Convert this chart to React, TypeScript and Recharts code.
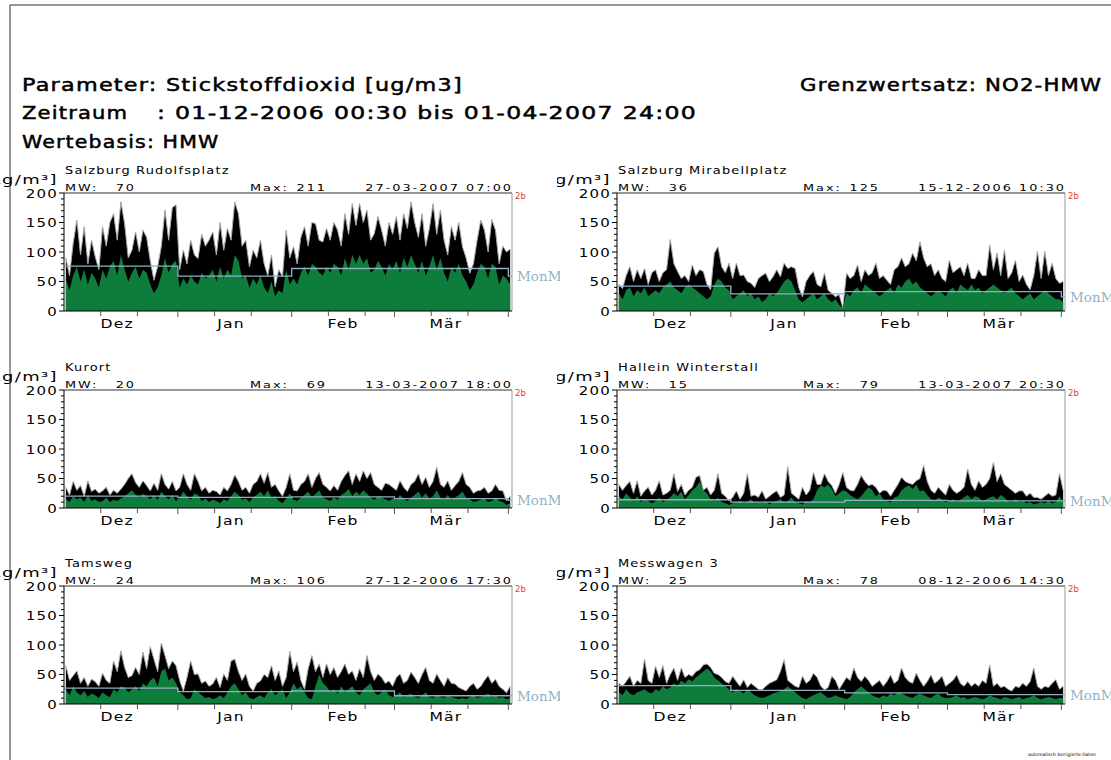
import React from "react";
import { ComposedChart, Area, Line, XAxis, YAxis, ReferenceLine } from "recharts";

// tick labels and axis positions (day index from 01-12-2006)
const monthLabels = ["Dez", "Jan", "Feb", "Mär"];
const monthLabelDays = [14.5, 45.5, 76, 104];
const monthStartDays = [0, 31, 62, 90, 121];
const dekadDays = [10, 20, 31, 41, 51, 62, 72, 82, 90, 100, 110, 121];
const yTicks = [0, 10, 20, 30, 40, 50, 60, 70, 80, 90, 100, 110, 120, 130, 140, 150, 160, 170, 180, 190, 200];

const stations = ["Salzburg Rudolfsplatz", "Salzburg Mirabellplatz", "Kurort", "Hallein Winterstall", "Tamsweg", "Messwagen 3"];
const mwValues = [70, 36, 20, 15, 24, 25];
const maxValues = [211, 125, 69, 79, 106, 78];
const maxTimes = ["27-03-2007 07:00", "15-12-2006 10:30", "13-03-2007 18:00", "13-03-2007 20:30", "27-12-2006 17:30", "08-12-2006 14:30"];

// daily peak of the half-hour values (black) and lower band (green)
const rudolfsplatzHi = [90, 60, 115, 154, 95, 143, 80, 120, 92, 70, 143, 110, 150, 165, 120, 185, 148, 90, 103, 134, 100, 137, 125, 85, 52, 75, 109, 171, 120, 175, 180, 70, 103, 80, 120, 95, 89, 130, 110, 120, 134, 95, 150, 103, 140, 120, 185, 165, 110, 120, 75, 103, 90, 120, 80, 60, 95, 41, 70, 58, 137, 90, 109, 80, 125, 143, 110, 150, 148, 120, 117, 140, 120, 150, 137, 110, 165, 130, 182, 145, 182, 150, 171, 120, 131, 160, 137, 110, 150, 130, 160, 120, 165, 140, 185, 150, 125, 165, 110, 140, 182, 130, 171, 120, 95, 143, 120, 150, 109, 90, 64, 80, 120, 154, 137, 100, 155, 137, 80, 110, 100, 105];
const rudolfsplatzLo = [55, 35, 60, 75, 50, 70, 45, 65, 55, 40, 70, 55, 75, 85, 60, 95, 70, 50, 65, 75, 55, 70, 65, 45, 30, 40, 60, 90, 65, 80, 85, 40, 55, 45, 60, 50, 45, 65, 55, 60, 70, 50, 75, 55, 70, 60, 95, 85, 55, 60, 40, 55, 45, 60, 40, 30, 50, 25, 35, 30, 70, 45, 55, 45, 65, 75, 60, 80, 75, 65, 60, 75, 65, 80, 75, 60, 90, 70, 95, 80, 95, 80, 90, 65, 70, 85, 75, 60, 80, 70, 85, 65, 90, 75, 95, 80, 65, 85, 60, 75, 95, 70, 90, 65, 50, 75, 65, 80, 60, 50, 35, 45, 65, 80, 75, 55, 80, 75, 45, 60, 55, 45];
const rudolfsplatzMonthly = [76, 59, 72, 72, 59];

const mirabellHi = [45, 38, 60, 75, 50, 70, 55, 72, 45, 65, 70, 50, 65, 70, 121, 80, 67, 55, 60, 50, 78, 60, 70, 67, 45, 36, 98, 109, 75, 65, 81, 55, 81, 60, 61, 50, 47, 40, 55, 60, 64, 50, 58, 70, 58, 81, 72, 75, 72, 40, 24, 50, 60, 67, 45, 41, 64, 35, 30, 24, 28, 5, 64, 55, 60, 78, 50, 70, 60, 65, 81, 55, 60, 52, 45, 70, 75, 90, 75, 80, 98, 85, 117, 90, 75, 80, 60, 70, 55, 50, 86, 65, 70, 75, 60, 81, 55, 55, 70, 60, 60, 112, 70, 98, 60, 103, 55, 65, 86, 50, 61, 45, 36, 60, 101, 55, 101, 60, 81, 55, 47, 50];
const mirabellLo = [30, 20, 35, 40, 25, 35, 30, 40, 25, 30, 35, 30, 40, 45, 50, 40, 35, 30, 40, 45, 40, 35, 30, 25, 20, 25, 45, 55, 50, 40, 35, 20, 25, 30, 35, 25, 30, 20, 25, 15, 20, 30, 25, 30, 40, 50, 55, 50, 35, 20, 15, 20, 25, 30, 20, 25, 30, 20, 15, 20, 10, 5, 30, 25, 35, 40, 30, 45, 40, 35, 30, 25, 30, 35, 40, 30, 45, 40, 50, 55, 45, 50, 40, 35, 30, 25, 30, 35, 30, 25, 35, 40, 30, 45, 40, 35, 45, 35, 40, 30, 35, 40, 45, 40, 35, 30, 35, 40, 30, 25, 20, 25, 30, 20, 25, 30, 35, 30, 25, 20, 20, 15];
const mirabellMonthly = [42, 29, 33, 33, 24];

const kurortHi = [35, 22, 45, 30, 38, 20, 46, 28, 32, 25, 29, 35, 22, 30, 25, 32, 40, 50, 58, 43, 35, 46, 38, 29, 42, 30, 58, 40, 32, 45, 29, 35, 58, 40, 30, 58, 45, 29, 35, 25, 30, 28, 22, 35, 29, 40, 56, 45, 30, 35, 25, 40, 45, 58, 42, 60, 35, 40, 29, 20, 35, 58, 30, 29, 40, 45, 58, 35, 50, 60, 40, 35, 29, 38, 30, 45, 55, 63, 40, 58, 45, 63, 50, 60, 40, 35, 30, 42, 40, 35, 30, 46, 35, 28, 40, 45, 58, 40, 52, 35, 45, 69, 40, 35, 46, 30, 38, 45, 60, 40, 35, 25, 29, 30, 35, 25, 29, 40, 30, 29, 12, 20];
const kurortLo = [15, 10, 20, 15, 18, 10, 22, 12, 15, 10, 12, 18, 10, 14, 12, 16, 20, 25, 30, 22, 18, 24, 20, 15, 22, 14, 28, 20, 15, 22, 12, 18, 28, 20, 14, 25, 22, 12, 16, 10, 14, 12, 8, 15, 12, 20, 28, 22, 14, 16, 10, 18, 22, 28, 20, 30, 18, 20, 12, 8, 16, 25, 14, 12, 18, 22, 28, 18, 24, 30, 18, 15, 12, 18, 14, 22, 26, 32, 20, 28, 22, 30, 24, 18, 14, 20, 18, 15, 12, 16, 14, 22, 16, 12, 18, 22, 28, 18, 25, 16, 20, 30, 18, 15, 22, 14, 18, 22, 28, 18, 15, 10, 12, 14, 16, 10, 12, 18, 12, 10, 5, 8];
const kurortMonthly = [20, 18, 19, 16, 13];

const halleinHi = [40, 30, 38, 45, 25, 46, 20, 29, 35, 22, 30, 46, 22, 25, 30, 58, 28, 40, 22, 30, 35, 52, 55, 30, 35, 22, 30, 58, 25, 20, 12, 18, 29, 15, 25, 58, 20, 22, 18, 29, 15, 20, 25, 29, 18, 22, 70, 25, 20, 15, 35, 22, 30, 60, 40, 40, 58, 45, 38, 25, 40, 60, 35, 30, 29, 40, 55, 45, 38, 40, 35, 25, 30, 29, 20, 30, 40, 52, 45, 42, 40, 46, 50, 72, 45, 30, 25, 35, 28, 22, 40, 30, 25, 29, 35, 66, 40, 30, 46, 35, 40, 50, 77, 45, 58, 40, 35, 30, 25, 29, 29, 20, 25, 18, 18, 15, 20, 25, 20, 22, 58, 30];
const halleinLo = [20, 15, 25, 18, 12, 20, 10, 15, 12, 8, 12, 18, 10, 14, 18, 25, 20, 28, 15, 22, 30, 35, 45, 30, 25, 15, 12, 18, 10, 8, 5, 8, 10, 12, 8, 10, 15, 8, 10, 8, 12, 6, 10, 12, 15, 10, 12, 18, 10, 8, 6, 12, 10, 15, 30, 38, 35, 40, 32, 20, 25, 30, 28, 22, 18, 15, 20, 28, 35, 30, 20, 25, 15, 12, 10, 18, 20, 30, 35, 38, 32, 40, 28, 30, 22, 15, 12, 18, 15, 10, 12, 15, 10, 14, 18, 22, 15, 20, 18, 12, 15, 18, 20, 15, 22, 18, 12, 10, 15, 10, 12, 8, 10, 6, 8, 10, 8, 12, 8, 10, 20, 10];
const halleinMonthly = [14, 10, 13, 12, 12];

const tamswegHi = [65, 40, 48, 56, 35, 45, 30, 42, 38, 30, 52, 40, 35, 73, 55, 90, 62, 45, 48, 62, 50, 88, 60, 97, 76, 55, 103, 82, 60, 73, 65, 40, 22, 45, 73, 50, 51, 35, 39, 30, 34, 45, 28, 51, 40, 73, 76, 55, 40, 51, 30, 22, 35, 39, 50, 45, 65, 40, 56, 30, 45, 89, 55, 71, 40, 25, 60, 82, 55, 68, 45, 68, 50, 62, 45, 55, 68, 50, 56, 40, 60, 45, 82, 55, 40, 51, 45, 35, 39, 30, 45, 51, 35, 40, 54, 45, 35, 50, 62, 40, 35, 51, 40, 30, 45, 35, 34, 28, 25, 22, 30, 35, 25, 30, 40, 48, 35, 42, 30, 25, 19, 30];
const tamswegLo = [25, 15, 30, 20, 15, 22, 12, 18, 15, 10, 20, 15, 12, 25, 20, 30, 28, 20, 25, 30, 22, 35, 30, 40, 45, 30, 55, 60, 40, 45, 35, 20, 15, 8, 10, 25, 20, 15, 10, 12, 8, 10, 15, 10, 20, 30, 35, 25, 15, 20, 10, 8, 12, 15, 10, 20, 25, 15, 20, 25, 10, 20, 35, 25, 30, 20, 10, 8, 30, 50, 35, 30, 20, 25, 18, 30, 20, 25, 30, 20, 15, 25, 30, 35, 20, 15, 20, 25, 15, 12, 15, 20, 12, 15, 18, 12, 10, 15, 20, 12, 10, 15, 12, 10, 15, 12, 10, 8, 10, 8, 12, 15, 10, 12, 15, 18, 12, 15, 10, 12, 8, 10];
const tamswegMonthly = [27, 21, 22, 14, 14];

const messwagenHi = [35, 30, 38, 47, 30, 40, 35, 76, 40, 35, 64, 45, 65, 35, 50, 61, 40, 61, 45, 50, 47, 55, 58, 66, 68, 62, 52, 50, 45, 38, 35, 47, 38, 30, 41, 28, 35, 30, 25, 24, 30, 35, 38, 41, 55, 75, 40, 35, 30, 28, 47, 35, 40, 52, 45, 30, 24, 28, 47, 40, 25, 35, 45, 40, 61, 45, 38, 47, 40, 30, 35, 40, 30, 38, 49, 35, 40, 61, 45, 38, 35, 52, 40, 30, 38, 49, 35, 40, 47, 30, 35, 40, 49, 35, 30, 38, 30, 35, 30, 40, 35, 66, 30, 35, 28, 30, 25, 22, 30, 28, 35, 30, 38, 61, 30, 25, 30, 28, 35, 41, 25, 30];
const messwagenLo = [20, 15, 25, 18, 15, 20, 22, 25, 20, 18, 25, 22, 30, 25, 28, 35, 30, 40, 35, 42, 38, 45, 50, 55, 60, 55, 45, 40, 35, 30, 25, 20, 25, 22, 18, 25, 20, 15, 12, 10, 12, 15, 18, 20, 22, 25, 30, 25, 20, 15, 10, 8, 12, 15, 18, 20, 15, 10, 12, 15, 12, 10, 8, 12, 20, 25, 30, 25, 20, 15, 12, 10, 15, 12, 18, 15, 20, 18, 15, 12, 10, 15, 18, 15, 12, 10, 15, 18, 12, 10, 10, 12, 15, 10, 12, 8, 10, 12, 10, 8, 10, 15, 12, 10, 8, 12, 10, 8, 10, 12, 8, 10, 12, 15, 10, 8, 10, 12, 10, 8, 10, 10];
const messwagenMonthly = [31, 23, 19, 16, 16];

const hiSeries = [rudolfsplatzHi, mirabellHi, kurortHi, halleinHi, tamswegHi, messwagenHi];
const loSeries = [rudolfsplatzLo, mirabellLo, kurortLo, halleinLo, tamswegLo, messwagenLo];
const monthlySeries = [rudolfsplatzMonthly, mirabellMonthly, kurortMonthly, halleinMonthly, tamswegMonthly, messwagenMonthly];

// plot boxes (left, top) of the six panels
const boxes = [
  { x: 64, y: 193 },
  { x: 617, y: 193 },
  { x: 64, y: 390 },
  { x: 617, y: 390 },
  { x: 64, y: 586 },
  { x: 617, y: 586 },
];
const PW = 448;
const PH = 118;

const SANS = "'DejaVu Sans', Verdana, sans-serif";
const SERIF = "'DejaVu Serif', 'Liberation Serif', serif";
const GREEN = "#0e7d3c";
const MEAN = "#8fb1c2";

function WText({ x, y, size, sx = 1, ls = 0, anchor = "start", fill = "#000", family = SANS, bold = 0, children }: any) {
  return (
    <text
      transform={`translate(${x},${y}) scale(${sx},1)`}
      fontSize={size}
      fontFamily={family}
      letterSpacing={ls}
      textAnchor={anchor}
      fill={fill}
      stroke={bold ? fill : "none"}
      strokeWidth={bold}
      style={{ whiteSpace: "pre" }}
    >
      {children}
    </text>
  );
}

function YTick(props: any) {
  const { x, y, payload } = props;
  const v = payload.value;
  const major = v % 50 === 0;
  return (
    <g>
      <line x1={x - (major ? 5 : 3)} x2={x} y1={y} y2={y} stroke="#000" />
      {major && (
        <WText x={x - 6} y={y + 4.5} size={12.5} sx={1.2} ls={1} anchor="end">
          {v}
        </WText>
      )}
    </g>
  );
}

function XTick(props: any) {
  const { x, y, payload } = props;
  const v = payload.value;
  const k = monthLabelDays.indexOf(v);
  if (k >= 0) {
    return (
      <WText x={x} y={y + 17} size={13} sx={1.2} ls={1} anchor="middle">
        {monthLabels[k]}
      </WText>
    );
  }
  const long = monthStartDays.indexOf(v) >= 0;
  return <line x1={x} x2={x} y1={y} y2={y + (long ? 6 : 5)} stroke="#555" />;
}

function Panel({ i }: { i: number }) {
  const hi = hiSeries[i];
  const lo = loSeries[i];
  const rows = hi.map((h, d) => ({ d: d + 0.5, hi: h, lo: lo[d] }));
  const monthly = monthlySeries[i];
  const meanRows = monthStartDays.map((d, k) => ({ d, m: monthly[k] })).concat([{ d: 122, m: monthly[4] }]);
  const b = boxes[i];
  return (
    <div style={{ position: "absolute", left: b.x - 64, top: b.y - 10 }}>
      <ComposedChart width={64 + PW + 10} height={10 + PH + 30} data={rows} margin={{ top: 10, right: 10, bottom: 0, left: 0 }}>
        <XAxis
          dataKey="d"
          type="number"
          domain={[0, 122]}
          ticks={dekadDays.concat(monthLabelDays)}
          interval={0}
          tickSize={0}
          tickMargin={0}
          tickLine={false}
          tick={(p: any) => <XTick {...p} />}
          axisLine={{ stroke: "#000" }}
          height={30}
          allowDataOverflow
        />
        <YAxis
          type="number"
          domain={[0, 200]}
          ticks={yTicks}
          interval={0}
          tickSize={0}
          tickMargin={0}
          tickLine={false}
          tick={(p: any) => <YTick {...p} />}
          axisLine={{ stroke: "#000" }}
          width={64}
          allowDataOverflow
        />
        <Area type="linear" dataKey="hi" fill="#000" fillOpacity={1} stroke="#a8a8a8" strokeWidth={1} isAnimationActive={false} />
        <Area type="linear" dataKey="lo" fill={GREEN} fillOpacity={1} stroke="none" isAnimationActive={false} />
        <Line data={meanRows} dataKey="m" type="stepAfter" stroke={MEAN} strokeWidth={1.3} dot={false} isAnimationActive={false} />
        <ReferenceLine y={200} stroke="#333" />
        <ReferenceLine x={122} stroke="#999" />
      </ComposedChart>
    </div>
  );
}

function PanelLabels({ i }: { i: number }) {
  const b = boxes[i];
  const last = monthlySeries[i][4];
  const meanY = b.y + PH * (1 - last / 200);
  return (
    <g clipPath={b.x < 300 ? "url(#leftCol)" : "url(#rightCol)"}>
      <WText x={b.x - 6} y={b.y - 9} size={13} sx={1.38} ls={1} anchor="end">
        [µg/m³]
      </WText>
      <WText x={b.x + 1} y={b.y - 19} size={11} sx={1.18} ls={1}>
        {stations[i]}
      </WText>
      <WText x={b.x + 1} y={b.y - 2} size={9.5} sx={1.35} ls={1.5}>
        MW:
      </WText>
      <WText x={b.x + 72} y={b.y - 2} size={9.5} sx={1.35} ls={1.5} anchor="end">
        {mwValues[i]}
      </WText>
      <WText x={b.x + 186} y={b.y - 2} size={9.5} sx={1.35} ls={1.5}>
        Max:
      </WText>
      <WText x={b.x + 263} y={b.y - 2} size={9.5} sx={1.35} ls={1.5} anchor="end">
        {maxValues[i]}
      </WText>
      <WText x={b.x + PW + 1} y={b.y - 2} size={9.5} sx={1.35} ls={1.5} anchor="end">
        {maxTimes[i]}
      </WText>
      <WText x={b.x + PW + 3} y={b.y + 6} size={8.5} fill="#e63a2e">
        2b
      </WText>
      <WText x={b.x + PW + 5} y={meanY + 5} size={13.5} family={SERIF} fill={MEAN}>
        MonMW
      </WText>
    </g>
  );
}

export default function App() {
  return (
    <div style={{ position: "absolute", left: 0, top: 0, width: 1111, height: 760, background: "#fff", overflow: "hidden" }}>
      {boxes.map((_, i) => (
        <Panel key={i} i={i} />
      ))}
      <svg width={1111} height={760} style={{ position: "absolute", left: 0, top: 0, pointerEvents: "none" }}>
        <defs>
          <clipPath id="leftCol">
            <rect x={0} y={0} width={560} height={760} />
          </clipPath>
          <clipPath id="rightCol">
            <rect x={557} y={0} width={554} height={760} />
          </clipPath>
        </defs>
        <line x1={10} y1={5} x2={10} y2={760} stroke="#333" />
        <line x1={10} y1={5} x2={1111} y2={5} stroke="#333" />
        <WText x={22} y={91} size={18} sx={1.24} ls={1} bold={0.5}>
          Parameter: Stickstoffdioxid [ug/m3]
        </WText>
        <WText x={800} y={91} size={18} sx={1.18} ls={1} bold={0.5}>
          Grenzwertsatz: NO2-HMW
        </WText>
        <WText x={22} y={119} size={18} sx={1.17} ls={1} bold={0.5}>
          Zeitraum
        </WText>
        <WText x={157} y={119} size={18} sx={1.31} ls={1} bold={0.5}>
          : 01-12-2006 00:30 bis 01-04-2007 24:00
        </WText>
        <WText x={22} y={148} size={18} sx={1.14} ls={1} bold={0.5}>
          Wertebasis: HMW
        </WText>
        {boxes.map((_, i) => (
          <PanelLabels key={i} i={i} />
        ))}
        <WText x={1028} y={756} size={4.5}>
          automatisch korrigierte Daten
        </WText>
      </svg>
    </div>
  );
}
